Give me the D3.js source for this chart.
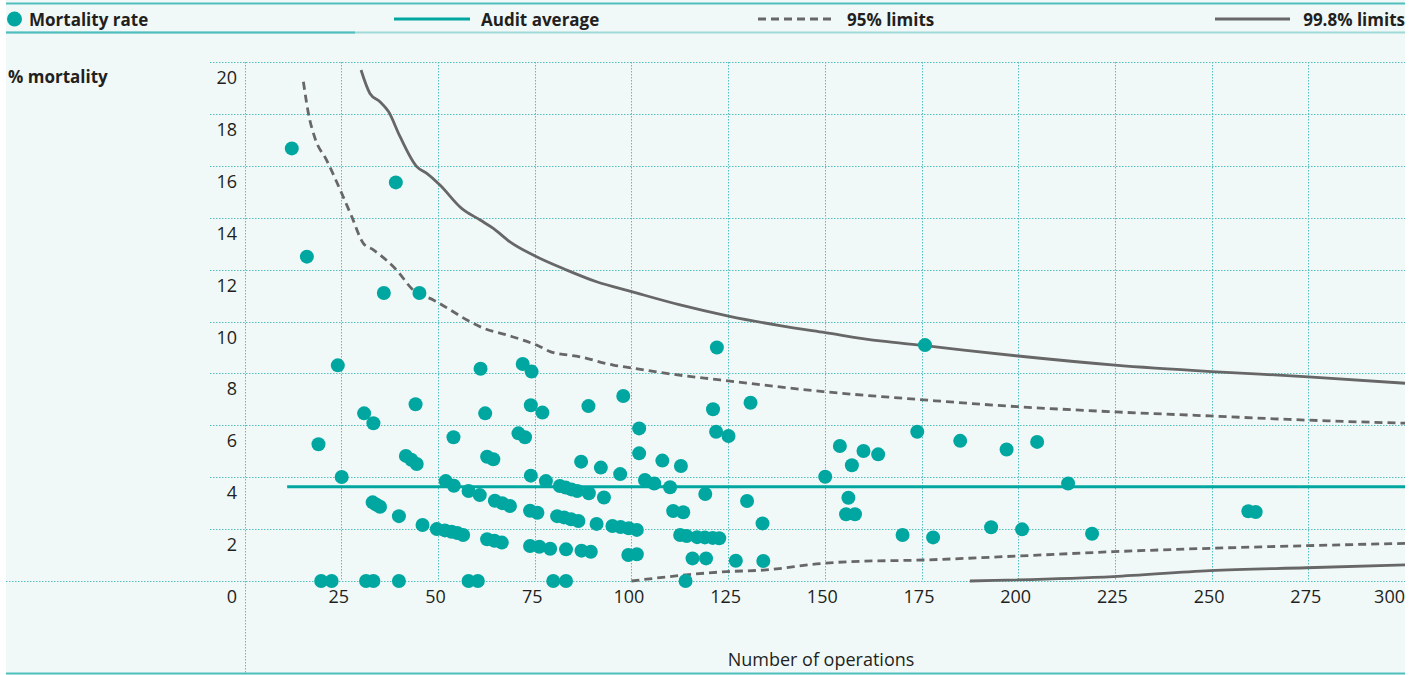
<!DOCTYPE html>
<html>
<head>
<meta charset="utf-8">
<script src="https://cdn.jsdelivr.net/npm/d3@7"></script>
<style>
  body { margin: 0; background: #fff; }
  svg { display: block; font-family: "Open Sans", sans-serif; }
</style>
</head>
<body>
<svg id="funnel" width="1424" height="675"></svg>
<script>
// values: [operations, % mortality]
var units = [
  [12.2,16.67],[16.1,12.5],[39.1,15.36],[36.0,11.1],[45.2,11.1],
  [24.1,8.31],[61.0,8.18],[71.9,8.36],[74.2,8.07],[122.1,9.0],[175.9,9.09],
  [44.2,6.81],[30.9,6.46],[33.3,6.08],[54.0,5.54],[19.1,5.27],
  [41.7,4.82],[43.1,4.67],[44.5,4.51],[25.1,4.01],[52.0,3.85],[54.1,3.67],[57.9,3.47],[60.8,3.31],
  [33.1,3.03],[34.0,2.95],[35.0,2.86],[39.9,2.50],[46.0,2.16],
  [49.7,2.0],[51.8,1.95],[53.5,1.9],[55.0,1.85],[56.5,1.77],
  [19.8,0],[22.5,0],[31.4,0],[33.3,0],[39.9,0],[57.9,0],[60.3,0],[79.8,0],[83.1,0],[114.0,0],
  [62.2,6.46],[74.0,6.77],[77.0,6.49],[88.9,6.74],[97.9,7.13],[130.8,6.87],[121.1,6.62],
  [102.0,5.88],[121.9,5.75],[125.1,5.59],[70.8,5.69],[72.5,5.54],[173.9,5.75],[185.0,5.40],
  [153.9,5.20],[160.0,5.01],[163.8,4.88],[157.0,4.46],[62.7,4.79],[64.3,4.69],[102.0,4.92],
  [87.0,4.6],[92.1,4.37],[108.0,4.64],[112.8,4.43],[97.1,4.12],[74.0,4.06],[77.9,3.85],
  [81.5,3.66],[83.0,3.6],[84.5,3.53],[86.0,3.47],[89.0,3.38],[92.9,3.22],[103.5,3.89],
  [105.9,3.76],[110.0,3.61],[119.1,3.35],[150.1,4.02],[156.1,3.21],[155.5,2.57],[157.8,2.57],
  [129.9,3.08],[133.9,2.22],
  [64.7,3.09],[66.6,3.0],[68.6,2.89],[73.8,2.71],[75.7,2.63],[80.8,2.5],[82.6,2.45],[84.4,2.38],
  [86.3,2.31],[91.0,2.2],[95.1,2.12],[97.2,2.08],[99.3,2.03],[101.4,1.97],[110.8,2.70],[113.4,2.65],
  [112.6,1.77],[114.3,1.73],[117.0,1.69],[119.0,1.68],[121.0,1.66],[122.7,1.65],
  [62.7,1.61],[64.6,1.55],[66.5,1.48],[73.8,1.35],[76.2,1.32],[79.0,1.24],[83.1,1.22],
  [87.1,1.17],[89.5,1.13],[99.2,1.0],[101.4,1.03],[115.8,0.87],[119.3,0.87],[127.0,0.78],
  [134.1,0.77],[170.1,1.77],[178.0,1.68],
  [197.0,5.07],[204.9,5.36],[212.9,3.76],[193.0,2.07],[201.0,1.99],[219.1,1.82],
  [259.5,2.69],[261.4,2.66]
];

var auditAverage = 3.63;
var auditStart = 11;

var upper95 = [[15.2,19.24],[16.5,18.02],[18.2,17.06],[21.2,16.22],[25.1,14.94],[27.7,14.04],
  [30.7,13.01],[33.3,12.76],[39.3,11.98],[43.6,11.21],[48.8,10.83],[59.1,9.93],[61.8,9.74],
  [67.8,9.48],[76.4,9.03],[79.0,8.84],[86.7,8.64],[95.3,8.32],[100.5,8.20],[109.1,8.0],
  [122.9,7.75],[149.6,7.30],[175.5,6.98],[199.6,6.72],[224.6,6.52],[249.6,6.36],[274.6,6.20],[300,6.08]];
var lower95 = [[100,0],[124.6,0.36],[134.1,0.42],[149.6,0.68],[155.7,0.74],[175.5,0.81],
  [199.6,0.96],[224.6,1.13],[249.6,1.26],[274.6,1.36],[300,1.45]];
var upper998 = [[30.1,19.69],[32.4,18.79],[35.0,18.47],[37.2,18.09],[40.2,17.12],[44.5,15.97],
  [47.1,15.71],[50.5,15.26],[56.1,14.36],[60.9,13.91],[64.3,13.59],[68.6,13.07],[74.6,12.56],
  [83.3,11.98],[91.0,11.53],[100.1,11.15],[112.6,10.64],[125.1,10.21],[138.4,9.84],[150.1,9.57],
  [164.3,9.25],[175.9,9.07],[185.9,8.90],[200,8.67],[225,8.32],[250,8.07],[275,7.87],[300,7.62]];
var lower998 = [[187.5,0],[224.6,0.17],[249.6,0.40],[274.6,0.51],[300,0.62]];

var xTicks = [25, 50, 75, 100, 125, 150, 175, 200, 225, 250, 275, 300];
var yTicks = [0, 2, 4, 6, 8, 10, 12, 14, 16, 18, 20];
var legendLabels = ["Mortality rate", "Audit average", "95% limits", "99.8% limits"];

var teal = "#00a7a0",
    grey = "#676767",
    gridCol = "#52c0c0";

var svg = d3.select("#funnel");

svg.append("rect")
    .attr("x", 6).attr("y", 0)
    .attr("width", 1399).attr("height", 675)
    .attr("fill", "#f1f9f8");

// top rules
svg.append("line").attr("x1", 6).attr("x2", 1405).attr("y1", 3.5).attr("y2", 3.5)
    .attr("stroke", "#4fbfbd").attr("stroke-width", 2);
svg.append("line").attr("x1", 6).attr("x2", 1405).attr("y1", 32.5).attr("y2", 32.5)
    .attr("stroke", "#9fdad8").attr("stroke-width", 2);
svg.append("line").attr("x1", 6).attr("x2", 355).attr("y1", 32.5).attr("y2", 32.5)
    .attr("stroke", "#4fbfbd").attr("stroke-width", 2);
// bottom rule
svg.append("line").attr("x1", 6).attr("x2", 1405).attr("y1", 673.5).attr("y2", 673.5)
    .attr("stroke", "#4fbfbd").attr("stroke-width", 2);

var x = d3.scaleLinear().domain([0, 300]).range([244.6, 1405]);
var y = d3.scaleLinear().domain([0, 20]).range([581, 62]);

// grid
var grid = svg.append("g")
    .attr("stroke", gridCol)
    .attr("stroke-width", 1)
    .attr("stroke-dasharray", "1.5,1.5");

grid.selectAll(".hgrid")
    .data(yTicks)
    .enter().append("line")
    .attr("class", "hgrid")
    .attr("x1", function(d) { return d == 0 ? 6 : 210; })
    .attr("x2", 1405)
    .attr("y1", function(d) { return Math.round(y(d)) + 0.5; })
    .attr("y2", function(d) { return Math.round(y(d)) + 0.5; });

grid.selectAll(".vgrid")
    .data([0].concat(xTicks.slice(0, -1)))
    .enter().append("line")
    .attr("class", "vgrid")
    .attr("x1", function(d) { return Math.round(x(d)) + 0.5; })
    .attr("x2", function(d) { return Math.round(x(d)) + 0.5; })
    .attr("y1", y(20))
    .attr("y2", function(d) { return d == 0 ? 673 : y(0); });

// tick labels
svg.append("g").selectAll("text")
    .data(xTicks)
    .enter().append("text")
    .attr("x", function(d, i) { return i == xTicks.length - 1 ? 1405 : x(d) - 2.5; })
    .attr("y", y(0) + 22)
    .attr("text-anchor", function(d, i) { return i == xTicks.length - 1 ? "end" : "middle"; })
    .attr("font-size", 18)
    .attr("fill", "#231f20")
    .text(function(d) { return d; });

svg.append("g").selectAll("text")
    .data(yTicks)
    .enter().append("text")
    .attr("x", 237)
    .attr("y", function(d) { return y(d) + 22; })
    .attr("text-anchor", "end")
    .attr("font-size", 18)
    .attr("fill", "#231f20")
    .text(function(d) { return d; });

svg.append("text")
    .attr("x", 8).attr("y", 83)
    .attr("font-size", 17).attr("font-weight", "bold")
    .attr("fill", "#231f20")
    .text("% mortality");

svg.append("text")
    .attr("x", 821).attr("y", 666)
    .attr("text-anchor", "middle")
    .attr("font-size", 18)
    .attr("fill", "#231f20")
    .text("Number of operations");

// limits + average
var line = d3.line()
    .x(function(d) { return x(d[0]); })
    .y(function(d) { return y(d[1]); })
    .curve(d3.curveMonotoneX);

svg.append("line")
    .attr("x1", x(auditStart)).attr("x2", x(300))
    .attr("y1", y(auditAverage)).attr("y2", y(auditAverage))
    .attr("stroke", teal).attr("stroke-width", 3);

[upper95, lower95].forEach(function(s) {
  svg.append("path").datum(s)
      .attr("d", line)
      .attr("fill", "none").attr("stroke", grey)
      .attr("stroke-width", 2.8).attr("stroke-dasharray", "8,5");
});
[upper998, lower998].forEach(function(s) {
  svg.append("path").datum(s)
      .attr("d", line)
      .attr("fill", "none").attr("stroke", grey)
      .attr("stroke-width", 2.8);
});

// units
svg.append("g").selectAll("circle")
    .data(units)
    .enter().append("circle")
    .attr("cx", function(d) { return x(d[0]); })
    .attr("cy", function(d) { return y(d[1]); })
    .attr("r", 7)
    .attr("fill", teal);

// legend
var legend = svg.append("g")
    .attr("font-size", 17)
    .attr("font-weight", "bold")
    .attr("fill", "#231f20");

legend.append("circle").attr("cx", 14.5).attr("cy", 19).attr("r", 7.5).attr("fill", teal);
legend.append("line").attr("x1", 394).attr("x2", 470).attr("y1", 19).attr("y2", 19)
    .attr("stroke", teal).attr("stroke-width", 3);
legend.append("line").attr("x1", 758).attr("x2", 833).attr("y1", 19).attr("y2", 19)
    .attr("stroke", grey).attr("stroke-width", 2.8).attr("stroke-dasharray", "8,5");
legend.append("line").attr("x1", 1215).attr("x2", 1290).attr("y1", 19).attr("y2", 19)
    .attr("stroke", grey).attr("stroke-width", 2.8);

var legendX = [29, 481, 847, 1405];
legend.selectAll("text")
    .data(legendLabels)
    .enter().append("text")
    .attr("x", function(d, i) { return legendX[i]; })
    .attr("y", 25.5)
    .attr("text-anchor", function(d, i) { return i == 3 ? "end" : "start"; })
    .text(function(d) { return d; });
</script>
</body>
</html>
